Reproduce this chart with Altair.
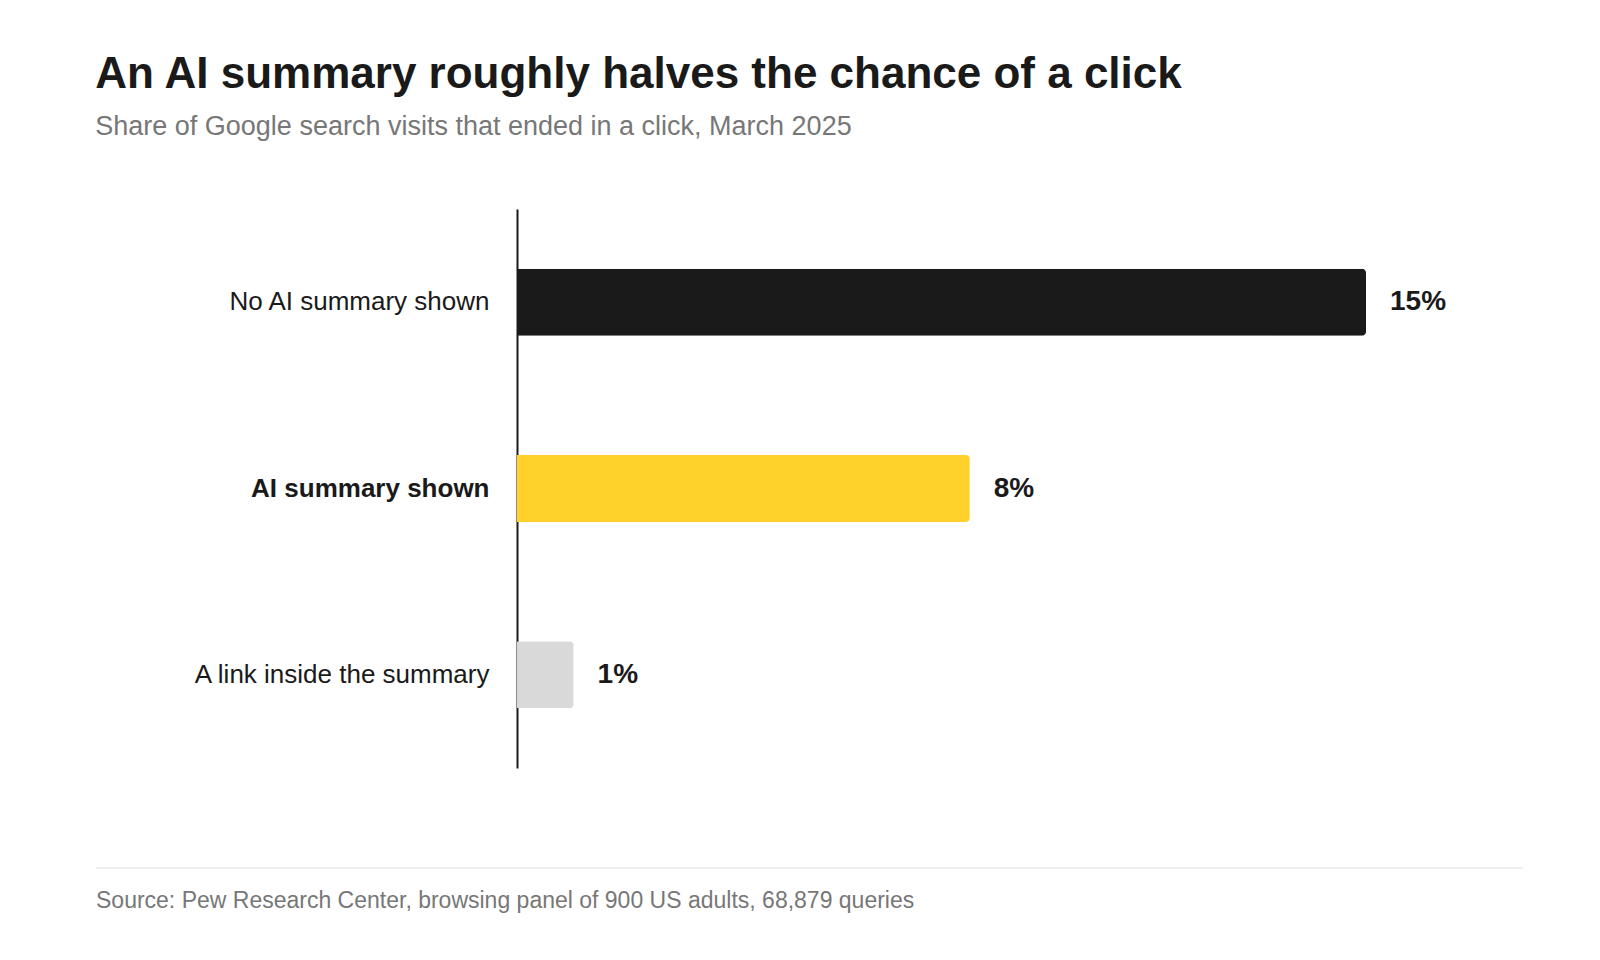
import altair as alt
import pandas as pd

# Chart data
categories = ['No AI summary shown', 'AI summary shown', 'A link inside the summary']
shares = [15, 8, 1]
labels = ['15%', '8%', '1%']
bar_colors = ['#1a1a1a', '#ffd12a', '#d9d9d9']

df = pd.DataFrame({'category': categories, 'share': shares, 'label': labels})

FONT = 'Liberation Sans'
INK = '#1a1a1a'
GREY = '#777777'

y_enc = alt.Y(
    'category:N',
    sort=categories,
    title=None,
    scale=alt.Scale(paddingInner=0.64, paddingOuter=0.32),
    axis=alt.Axis(
        domain=True,
        domainColor=INK,
        domainWidth=2,
        ticks=False,
        labelFontSize=26,
        labelFont=FONT,
        labelColor=INK,
        labelPadding=28,
        labelLimit=500,
        labelFontWeight=alt.expr("datum.value == 'AI summary shown' ? 'bold' : 'normal'"),
        grid=False,
    ),
)
x_enc = alt.X('share:Q', title=None, axis=None,
              scale=alt.Scale(domain=[0, 15], nice=False, zero=True))

base = alt.Chart(df)

bars = base.mark_bar(cornerRadiusEnd=4).encode(
    y=y_enc,
    x=x_enc,
    color=alt.Color('category:N', legend=None,
                    scale=alt.Scale(domain=categories, range=bar_colors)),
)

values = base.mark_text(align='left', baseline='middle', dx=24,
                        fontSize=28, fontWeight='bold', font=FONT, color=INK).encode(
    y=alt.Y('category:N', sort=categories),
    x='share:Q',
    text='label:N',
)

# footer: thin rule and source note below the plot
footer_rule = alt.Chart(pd.DataFrame({'k': [0]})).mark_rule(color='#e8e8e8', strokeWidth=1.5).encode(
    x=alt.value(-421), x2=alt.value(1006), y=alt.value(659),
)
source = alt.Chart(pd.DataFrame({'k': [0]})).mark_text(
    align='left', baseline='alphabetic', fontSize=23, font=FONT, color=GREY,
    text='Source: Pew Research Center, browsing panel of 900 US adults, 68,879 queries',
).encode(x=alt.value(-421), y=alt.value(699))

chart = (bars + values + footer_rule + source).properties(
    width=849,
    height=559,
    padding={'left': 87, 'top': 45, 'right': 20, 'bottom': 20},
    background='white',
    title=alt.TitleParams(
        text='An AI summary roughly halves the chance of a click',
        subtitle='Share of Google search visits that ended in a click, March 2025',
        anchor='start',
        frame='bounds',
        font=FONT,
        fontSize=44,
        fontWeight='bold',
        color=INK,
        subtitleFont=FONT,
        subtitleFontSize=27,
        subtitleColor=GREY,
        subtitlePadding=17,
        offset=69,
    ),
).configure_view(
    strokeWidth=0,
)

chart.save('out.html', embed_options={'renderer': 'svg', 'actions': False})
